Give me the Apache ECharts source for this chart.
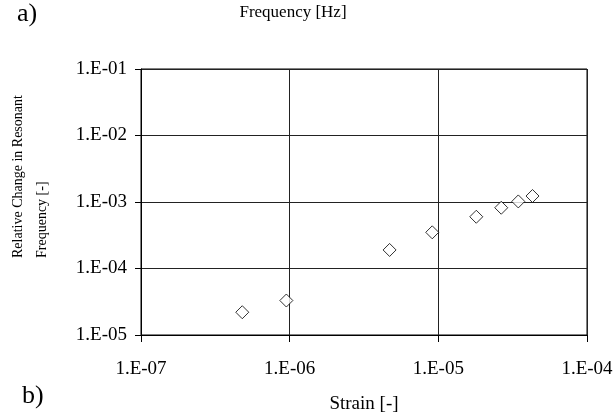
<!DOCTYPE html>
<html>
<head>
<meta charset="utf-8">
<script src="https://cdn.jsdelivr.net/npm/echarts@6/dist/echarts.min.js"></script>
<style>
  html, body { margin: 0; padding: 0; background: #fff; }
  #chart { width: 616px; height: 418px; }
</style>
</head>
<body>
<div id="chart"></div>
<script>
// Measured strain and the relative change in resonant frequency
const strain = [4.8e-7, 9.5e-7, 4.7e-6, 9.1e-6, 1.8e-5, 2.65e-5, 3.45e-5, 4.3e-5];
const relChange = [2.2e-5, 3.3e-5, 1.9e-4, 3.5e-4, 6.0e-4, 8.2e-4, 1.02e-3, 1.23e-3];

// Decade tick labels, lowest first
const xTickLabels = ['1.E-07', '1.E-06', '1.E-05', '1.E-04'];
const yTickLabels = ['1.E-05', '1.E-04', '1.E-03', '1.E-02', '1.E-01'];

const FONT = '"Liberation Serif", "Times New Roman", serif';

function decadeLabel(labels, minExp) {
  return function (v) {
    const e = Math.round(Math.log10(v));
    return labels[e - minExp] || '';
  };
}

const chart = echarts.init(document.getElementById('chart'), null, { renderer: 'canvas' });

chart.setOption({
  animation: false,
  backgroundColor: '#fff',
  grid: {
    left: 141, right: 29, top: 69, bottom: 83,
    outerBoundsMode: 'none', containLabel: false,
    show: true, borderColor: '#000', borderWidth: 1, backgroundColor: 'transparent'
  },
  xAxis: {
    type: 'log', logBase: 10, min: 1e-7, max: 1e-4,
    name: 'Strain [-]', nameLocation: 'middle', nameGap: 60,
    nameTextStyle: { fontFamily: FONT, fontSize: 19, color: '#000' },
    axisLine: { lineStyle: { color: '#000', width: 1 } },
    axisTick: { show: true, inside: false, length: 7, lineStyle: { color: '#000' } },
    minorTick: { show: false },
    splitLine: { show: true, lineStyle: { color: '#222', width: 1 } },
    axisLabel: {
      fontFamily: FONT, fontSize: 19, color: '#000', margin: 25,
      formatter: decadeLabel(xTickLabels, -7)
    }
  },
  yAxis: {
    type: 'log', logBase: 10, min: 1e-5, max: 1e-1,
    axisLine: { show: true, lineStyle: { color: '#000', width: 1 } },
    axisTick: { show: true, inside: false, length: 6, lineStyle: { color: '#000' } },
    splitLine: { show: true, lineStyle: { color: '#222', width: 1 } },
    axisLabel: {
      fontFamily: FONT, fontSize: 19, color: '#000', margin: 14,
      formatter: decadeLabel(yTickLabels, -5)
    }
  },
  series: [{
    type: 'scatter',
    data: strain.map((s, i) => [s, relChange[i]]),
    symbol: 'diamond',
    symbolSize: 13,
    itemStyle: { color: '#fff', borderColor: '#000', borderWidth: 1 },
    z: 5
  }],
  graphic: [
    { type: 'text', left: 17, top: 1,
      style: { text: 'a)', font: '26px ' + FONT, fill: '#000' } },
    { type: 'text', left: 22, top: 383,
      style: { text: 'b)', font: '26px ' + FONT, fill: '#000' } },
    { type: 'text', x: 293, y: 13,
      style: { text: 'Frequency [Hz]', font: '17px ' + FONT, fill: '#000',
               textAlign: 'center', textVerticalAlign: 'middle' } },
    { type: 'text', x: 18, y: 258, rotation: Math.PI / 2,
      style: { text: 'Relative Change in Resonant', font: '14px ' + FONT, fill: '#000',
               textAlign: 'left', textVerticalAlign: 'middle' } },
    { type: 'text', x: 42, y: 258, rotation: Math.PI / 2,
      style: { text: 'Frequency [-]', font: '14px ' + FONT, fill: '#000',
               textAlign: 'left', textVerticalAlign: 'middle' } }
  ]
});
</script>
</body>
</html>
